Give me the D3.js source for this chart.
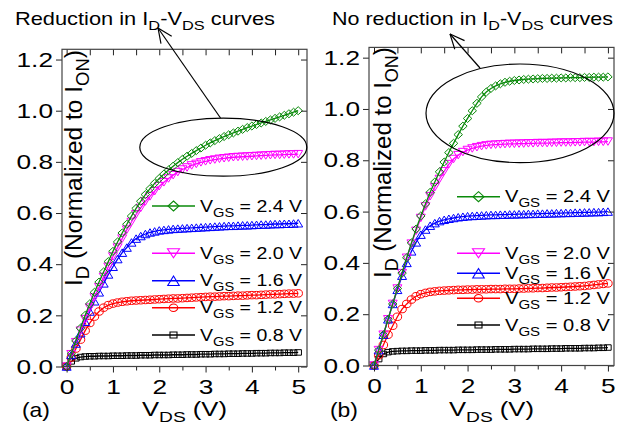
<!DOCTYPE html>
<html>
<head>
<meta charset="utf-8">
<script src="https://cdn.jsdelivr.net/npm/d3@7"></script>
<style>
  body { margin: 0; background: #fff; }
</style>
</head>
<body>
<svg id="chart" width="629" height="430"></svg>
<script>
// drain voltage sweep (V)
const vds = [0, 0.1, 0.2, 0.3, 0.4, 0.5, 0.6, 0.7, 0.8, 0.9, 1.0,
  1.1, 1.2, 1.3, 1.4, 1.5, 1.6, 1.7, 1.8, 1.9, 2.0,
  2.1, 2.2, 2.3, 2.4, 2.5, 2.6, 2.7, 2.8, 2.9, 3.0,
  3.1, 3.2, 3.3, 3.4, 3.5, 3.6, 3.7, 3.8, 3.9, 4.0,
  4.1, 4.2, 4.3, 4.4, 4.5, 4.6, 4.7, 4.8, 4.9, 5.0];

const vgsLabels = ["2.4", "2.0", "1.6", "1.2", "0.8"];

// panel (a): normalized ID
const a24 = [0, .050, .100, .150, .200, .245, .290, .330, .370, .410, .450,
  .487, .522, .556, .588, .618, .646, .672, .695, .716, .735,
  .752, .768, .783, .797, .810, .822, .833, .844, .854, .865,
  .874, .883, .891, .899, .906, .913, .920, .927, .934, .940,
  .946, .952, .958, .964, .970, .976, .982, .988, .994, 1.000];
const a20 = [0, .048, .095, .140, .185, .230, .270, .310, .350, .390, .430,
  .465, .500, .535, .565, .595, .620, .645, .665, .685, .705,
  .720, .735, .748, .760, .770, .778, .786, .792, .798, .802,
  .806, .809, .812, .814, .816, .818, .819, .820, .821, .822,
  .823, .824, .825, .826, .827, .827, .828, .829, .829, .830];
const a16 = [0, .045, .090, .130, .175, .215, .255, .290, .325, .360, .390,
  .420, .445, .465, .485, .500, .510, .518, .524, .528, .532,
  .534, .536, .538, .539, .540, .541, .542, .543, .544, .545,
  .546, .547, .548, .549, .550, .550, .551, .552, .552, .553,
  .554, .555, .555, .556, .557, .557, .558, .558, .559, .560];
const a12 = [0, .035, .070, .105, .140, .170, .195, .215, .230, .240, .246,
  .250, .253, .255, .257, .258, .259, .260, .261, .262, .263,
  .264, .265, .266, .266, .267, .268, .269, .270, .271, .272,
  .273, .273, .274, .275, .275, .276, .277, .277, .278, .279,
  .279, .280, .281, .282, .282, .283, .284, .285, .285, .286];
const a08 = [0, .020, .032, .037, .039, .040, .040, .041, .041, .041, .042,
  .042, .042, .043, .043, .043, .044, .044, .044, .045, .045,
  .045, .045, .046, .046, .046, .047, .047, .047, .048, .048,
  .048, .049, .049, .049, .050, .050, .050, .051, .051, .051,
  .052, .052, .052, .053, .053, .053, .054, .054, .054, .055];

// panel (b): normalized ID
const b24 = [0, .060, .120, .180, .240, .300, .360, .420, .478, .532, .583,
  .630, .675, .715, .755, .793, .830, .866, .900, .933, .963,
  .993, 1.022, 1.047, 1.066, 1.080, 1.090, 1.098, 1.104, 1.108, 1.111,
  1.113, 1.115, 1.116, 1.117, 1.118, 1.119, 1.119, 1.120, 1.120, 1.121,
  1.121, 1.122, 1.122, 1.122, 1.123, 1.123, 1.124, 1.124, 1.124, 1.125];
const b20 = [0, .060, .120, .180, .240, .300, .360, .420, .475, .525, .575,
  .620, .660, .695, .727, .757, .785, .805, .820, .832, .840,
  .846, .851, .855, .858, .860, .861, .862, .863, .864, .864,
  .865, .865, .866, .866, .867, .867, .867, .868, .868, .869,
  .869, .869, .870, .870, .871, .871, .871, .872, .872, .873];
const b16 = [0, .060, .120, .180, .240, .295, .350, .400, .445, .480, .510,
  .530, .545, .555, .563, .568, .572, .575, .578, .580, .582,
  .583, .584, .585, .586, .587, .587, .588, .588, .589, .589,
  .590, .590, .591, .591, .592, .592, .593, .593, .594, .594,
  .595, .595, .596, .596, .597, .597, .598, .598, .599, .600];
const b12 = [0, .040, .080, .120, .155, .190, .220, .240, .257, .270, .278,
  .283, .287, .289, .291, .292, .293, .294, .295, .295, .296,
  .296, .297, .297, .297, .298, .298, .298, .299, .299, .299,
  .300, .300, .301, .301, .302, .302, .303, .304, .304, .305,
  .306, .307, .308, .309, .310, .312, .314, .316, .318, .320];
const b08 = [0, .025, .045, .052, .055, .056, .057, .057, .058, .058, .058,
  .059, .059, .059, .060, .060, .060, .060, .061, .061, .061,
  .061, .062, .062, .062, .062, .063, .063, .063, .063, .064,
  .064, .064, .064, .065, .065, .065, .065, .066, .066, .066,
  .067, .067, .067, .067, .068, .068, .068, .069, .069, .070];

const yTicks = [0, 0.2, 0.4, 0.6, 0.8, 1.0, 1.2];
const xTicks = [0, 1, 2, 3, 4, 5];
const xMinor = [0.5, 1.5, 2.5, 3.5, 4.5];

const colors = ["#0a8a0a", "#ff00ff", "#0000ff", "#ff0000", "#000000"];
const shapes = ["diamond", "triDown", "triUp", "circle", "square"];
const font = "'Liberation Sans', Arial, sans-serif";

const svg = d3.select("#chart");
svg.append("rect").attr("width", 629).attr("height", 430).attr("fill", "#fff");

function markerPath(type, w, h) {
  const a = w / 2, b = h / 2;
  if (type === "diamond") return `M0,${-b}L${a},0L0,${b}L${-a},0Z`;
  if (type === "triUp") return `M0,${-b}L${a},${b}L${-a},${b}Z`;
  if (type === "triDown") return `M0,${b}L${a},${-b}L${-a},${-b}Z`;
  if (type === "circle") return `M${-a},0A${a},${b} 0 1,0 ${a},0A${a},${b} 0 1,0 ${-a},0Z`;
  return `M${-a},${-b}H${a}V${b}H${-a}Z`;
}
const markSize = { diamond: [8.5, 8], triUp: [9, 7.5], triDown: [9, 7.5], circle: [8.5, 7.5], square: [6.5, 5.5] };
const legSize = { diamond: [11, 10], triUp: [11.5, 9.5], triDown: [12, 9], circle: [8.5, 7.5], square: [7, 6] };

// "I_{D}" -> parts with subscripts
function parse(str) {
  const parts = [];
  str.split(/(_\{[^}]*\})/).forEach(s => {
    if (!s) return;
    if (s.startsWith("_{")) parts.push({ s: s.slice(2, -1), sub: true });
    else parts.push({ s: s, sub: false });
  });
  return parts;
}

// text with glyphs stretched horizontally (wide font look)
function label(str, fs, x, y, opt = {}) {
  const g = svg.append("g");
  const t = g.append("text").attr("font-family", font).attr("font-size", fs).attr("fill", "#000");
  let down = false;
  parse(str).forEach(p => {
    const ts = t.append("tspan").text(p.s);
    if (p.sub) {
      ts.attr("font-size", fs * 0.75);
      if (!down) ts.attr("dy", fs * 0.3);
      down = true;
    } else if (down) {
      ts.attr("dy", -fs * 0.3);
      down = false;
    }
  });
  const w = t.node().getComputedTextLength();
  const sx = opt.width ? opt.width / w : (opt.sx || 1.3);
  if (opt.anchor === "middle") t.attr("x", -w / 2);
  g.attr("transform", `translate(${x},${y})` + (opt.rotate ? " rotate(-90)" : "") + ` scale(${sx},1)`);
  return g;
}

const panels = [
  { box: [62, 307, 49.3, 366.5], xdom: [-0.1, 5.19], series: [a24, a20, a16, a12, a08],
    legX: 152, legY: [206, 253.3, 280.7, 307.7, 335], legW: 102,
    title: "Reduction in I_{D}-V_{DS} curves", titleX: 15, titleW: 260,
    ylab: [82, 286, 236], tag: "(a)", tagX: 22,
    ell: [223.3, 147.2, 83.5, 29], arrow: [[220.5, 118], [158, 28]] },
  { box: [369, 614, 47.4, 365.5], xdom: [-0.107, 5.13], series: [b24, b20, b16, b12, b08],
    legX: 457, legY: [196.7, 253.3, 273.3, 298.3, 325], legW: 105,
    title: "No reduction in I_{D}-V_{DS} curves", titleX: 332, titleW: 281,
    ylab: [391, 278, 231], tag: "(b)", tagX: 330,
    ell: [520, 113.3, 94, 49.3], arrow: [[480, 68], [450, 34]] }
];

panels.forEach(p => {
  const [x0, x1, y0, y1] = p.box;
  const x = d3.scaleLinear().domain(p.xdom).range([x0, x1]);
  const y = d3.scaleLinear().domain([0, 1.24]).range([y1, y0]);

  // curves, low VGS first so the green sits on top
  d3.range(4, -1, -1).forEach(i => {
    const vals = p.series[i];
    const pts = vds.map((v, k) => [v, vals[k]]);
    svg.append("path")
      .attr("d", d3.line().x(d => x(d[0])).y(d => y(d[1]))(pts))
      .attr("fill", "none").attr("stroke", colors[i]).attr("stroke-width", 1.3);
    const sz = markSize[shapes[i]];
    svg.append("g").selectAll("path").data(pts).join("path")
      .attr("transform", d => `translate(${x(d[0])},${y(d[1])})`)
      .attr("d", markerPath(shapes[i], sz[0], sz[1]))
      .attr("fill", "none").attr("stroke", colors[i]).attr("stroke-width", 1);
  });

  // axes
  const tickStyle = g => {
    g.select(".domain").remove();
    g.selectAll("line").attr("stroke", "#222").attr("stroke-width", 1);
  };
  svg.append("g").attr("transform", `translate(0,${y1})`)
    .call(d3.axisBottom(x).tickValues(xTicks).tickSize(6).tickPadding(7).tickFormat(d3.format("d")))
    .call(tickStyle)
    .call(g => g.selectAll("text").attr("font-family", font).attr("font-size", 21)
      .attr("fill", "#000").attr("transform", "scale(1.25,1)"));
  svg.append("g").attr("transform", `translate(0,${y1})`)
    .call(d3.axisBottom(x).tickValues(xMinor).tickSize(4).tickFormat(""))
    .call(tickStyle);
  svg.append("g").attr("transform", `translate(0,${y0})`)
    .call(d3.axisTop(x).tickValues(xTicks.concat(xMinor)).tickSize(-6).tickFormat(""))
    .call(tickStyle);
  svg.append("g").attr("transform", `translate(${x0},0)`)
    .call(d3.axisLeft(y).tickValues(yTicks).tickSize(6).tickPadding(3).tickFormat(d3.format(".1f")))
    .call(tickStyle)
    .call(g => g.selectAll("text").attr("font-family", font).attr("font-size", 21)
      .attr("fill", "#000").attr("x", -9 / 1.25).attr("transform", "scale(1.25,1)"));
  svg.append("g").attr("transform", `translate(${x1},0)`)
    .call(d3.axisRight(y).tickValues(yTicks).tickSize(-6).tickFormat(""))
    .call(tickStyle);

  svg.append("rect").attr("x", x0).attr("y", y0).attr("width", x1 - x0).attr("height", y1 - y0)
    .attr("fill", "none").attr("stroke", "#444").attr("stroke-width", 1.2);

  // legend
  vgsLabels.forEach((v, i) => {
    const ly = p.legY[i];
    svg.append("line").attr("x1", p.legX).attr("x2", p.legX + 43).attr("y1", ly).attr("y2", ly)
      .attr("stroke", colors[i]).attr("stroke-width", 1.5);
    const sz = legSize[shapes[i]];
    svg.append("path").attr("transform", `translate(${p.legX + 21.5},${ly})`)
      .attr("d", markerPath(shapes[i], sz[0], sz[1]))
      .attr("fill", "none").attr("stroke", colors[i]).attr("stroke-width", 1.1);
    label(`V_{GS} = ${v} V`, 17, p.legX + 48, ly + 5.5, { width: p.legW });
  });

  // labels
  label("V_{DS} (V)", 20, (x0 + x1) / 2, 416, { anchor: "middle", width: 85 });
  label(p.tag, 20, p.tagX, 417, { width: 28 });
  label("I_{D} (Normalized to I_{ON})", 24, p.ylab[0], p.ylab[1], { rotate: true, width: p.ylab[2] });
  label(p.title, 17.5, p.titleX, 25, { width: p.titleW });

  // ellipse + arrow
  const [cx, cy, rx, ry] = p.ell;
  svg.append("ellipse").attr("cx", cx).attr("cy", cy).attr("rx", rx).attr("ry", ry)
    .attr("fill", "none").attr("stroke", "#000").attr("stroke-width", 1.2);
  const [s, t] = p.arrow;
  svg.append("line").attr("x1", s[0]).attr("y1", s[1]).attr("x2", t[0]).attr("y2", t[1])
    .attr("stroke", "#000").attr("stroke-width", 1.2);
  const ang = Math.atan2(s[1] - t[1], s[0] - t[0]);
  [-0.42, 0.42].forEach(da => {
    svg.append("line").attr("x1", t[0]).attr("y1", t[1])
      .attr("x2", t[0] + 16 * Math.cos(ang + da)).attr("y2", t[1] + 16 * Math.sin(ang + da))
      .attr("stroke", "#000").attr("stroke-width", 1.2);
  });
});
</script>
</body>
</html>
